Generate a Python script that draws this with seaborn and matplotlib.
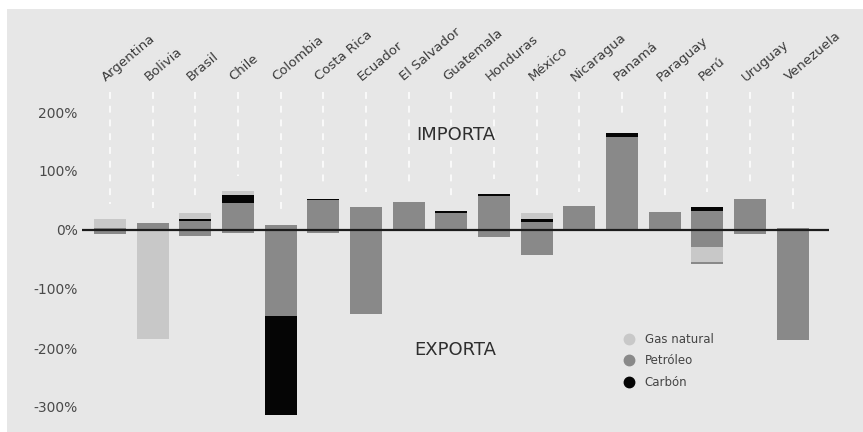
import matplotlib
matplotlib.use("Agg")
import matplotlib.pyplot as plt
from matplotlib.lines import Line2D
from matplotlib.patches import Rectangle
import numpy as np
import pandas as pd
import seaborn as sns

# Países
paises = ["Argentina", "Bolivia", "Brasil", "Chile", "Colombia", "Costa Rica",
          "Ecuador", "El Salvador", "Guatemala", "Honduras", "México",
          "Nicaragua", "Panamá", "Paraguay", "Perú", "Uruguay", "Venezuela"]

# Importaciones (% , positivas), apiladas: petróleo, carbón, gas natural
petroleo_imp = [3, 12, 15, 45, 9, 50, 39, 48, 28, 58, 13, 40, 158, 31, 33, 53, 3]
carbon_imp = [0, 0, 4, 15, 0, 3, 0, 0, 5, 3, 5, 0, 7, 0, 6, 0, 0]
gas_imp = [16, 0, 9, 6, 0, 0, 0, 0, 0, 0, 10, 0, 0, 0, 0, 0, 0]

# Exportaciones (% , magnitudes), apiladas hacia abajo: petróleo, gas natural, carbón, petróleo (resto)
petroleo_exp = [7, 0, 11, 5, 145, 5, 142, 0, 0, 12, 42, 0, 0, 0, 28, 6, 186]
gas_exp = [0, 185, 0, 0, 0, 0, 0, 0, 0, 0, 0, 0, 0, 0, 26, 0, 0]
carbon_exp = [0, 0, 0, 0, 169, 0, 0, 0, 0, 0, 0, 0, 0, 0, 0, 0, 0]
petroleo_exp_resto = [0, 0, 0, 0, 0, 0, 0, 0, 0, 0, 0, 0, 0, 0, 4, 0, 0]

y_ticks = [-300, -200, -100, 0, 100, 200]
y_tick_labels = ["-300%", "-200%", "-100%", "0%", "100%", "200%"]

recursos = ["Gas natural", "Petróleo", "Carbón"]
colores = {"Gas natural": "#c8c8c8", "Petróleo": "#898989", "Carbón": "#050505"}
fondo = "#e7e7e7"

sns.set_theme(style="white")
plt.rcParams["font.family"] = ["DejaVu Sans"]

W, H = 863, 432
fig = plt.figure(figsize=(W / 100, H / 100), dpi=100)
fig.patch.set_facecolor("white")
fig.patches.append(Rectangle((7 / W, 0), 1, (H - 9) / H, transform=fig.transFigure,
                             facecolor=fondo, edgecolor="none", zorder=-10))

# axes placed in pixels: x from 82 to 828.6, y (top-down) from 85.45 to 424.7
ax = fig.add_axes([81.8 / W, (H - 424.7) / H, (828.6 - 81.8) / W, (424.7 - 85.45) / H])
ax.set_facecolor("none")

df = pd.DataFrame({
    "pais": paises,
    "pet_imp": petroleo_imp, "car_imp": carbon_imp, "gas_imp": gas_imp,
    "pet_exp": petroleo_exp, "gas_exp": gas_exp, "car_exp": carbon_exp,
    "pet_exp2": petroleo_exp_resto,
})

# cumulative stacks, drawn from the outermost layer inwards
pos1 = df["pet_imp"]
pos2 = pos1 + df["car_imp"]
pos3 = pos2 + df["gas_imp"]
neg1 = -df["pet_exp"]
neg2 = neg1 - df["gas_exp"]
neg3 = neg2 - df["car_exp"]
neg4 = neg3 - df["pet_exp2"]

capas = [
    (pos3, colores["Gas natural"]),
    (pos2, colores["Carbón"]),
    (pos1, colores["Petróleo"]),
    (neg4, colores["Petróleo"]),
    (neg3, colores["Carbón"]),
    (neg2, colores["Gas natural"]),
    (neg1, colores["Petróleo"]),
]
for valores, col in capas:
    sns.barplot(x=df["pais"], y=valores, color=col, saturation=1, width=0.75,
                errorbar=None, linewidth=0, ax=ax, zorder=2)

ax.set_xlim(-0.66, 16.84)
ax.set_ylim(-330, 245)

# white dashed guides from each label down to its bar
x = np.arange(len(paises))
fin_guia = np.asarray(pos3, dtype=float) + 25
ax.vlines(x, 234, fin_guia, colors="white", linestyles=(0, (4.5, 4.5)),
          linewidth=1.1, zorder=1, clip_on=False)

ax.axhline(0, color="#1c1c1c", linewidth=1.6, zorder=3)

for i, p in enumerate(paises):
    ax.text(i - 0.1, 252, p, rotation=40, rotation_mode="anchor", ha="left",
            va="baseline", fontsize=9.5, color="#3a3a3a", clip_on=False)

ax.set_yticks(y_ticks)
ax.set_yticklabels(y_tick_labels, fontsize=10, color="#4a4a4a")
ax.set_xticks([])
ax.set_xlabel("")
ax.set_ylabel("")
ax.tick_params(axis="y", length=0, pad=3)
for s in ax.spines.values():
    s.set_visible(False)

ax.text(8.1, 161, "IMPORTA", ha="center", va="center", fontsize=13, color="#2e2e2e")
ax.text(8.1, -204, "EXPORTA", ha="center", va="center", fontsize=13, color="#2e2e2e")

handles = [Line2D([], [], marker="o", linestyle="", markersize=7.5,
                  markerfacecolor=colores[r], markeredgecolor=colores[r]) for r in recursos]
ax.legend(handles, recursos, loc="upper left", bbox_to_anchor=(623 / W, 1 - 333 / H),
          bbox_transform=fig.transFigure, frameon=False, fontsize=8.5,
          handlelength=1.0, handletextpad=0.85, labelspacing=0.72,
          borderpad=0, borderaxespad=0, labelcolor="#444444")

fig.savefig("out.png", dpi=100, facecolor=fig.get_facecolor())
